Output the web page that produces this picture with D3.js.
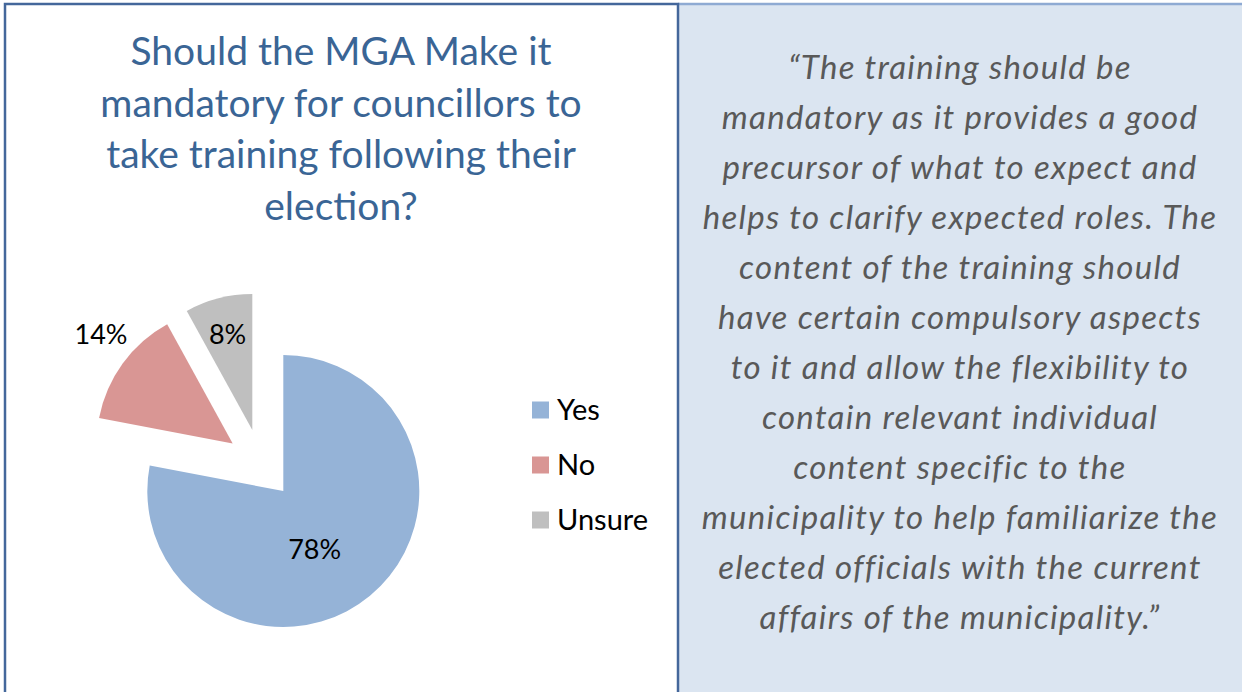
<!DOCTYPE html>
<html>
<head>
<meta charset="utf-8">
<script src="https://cdn.jsdelivr.net/npm/d3@7"></script>
<style>
  html, body { margin: 0; padding: 0; background: #ffffff; }
  svg { display: block; }
</style>
</head>
<body>
<div id="chart"></div>
<script>
// ---- data ----
const categories = ["Yes", "No", "Unsure"];
const values = [78, 14, 8];
const valueLabels = ["78%", "14%", "8%"];
const colors = ["#95b3d7", "#d99694", "#bfbfbf"];
const titleLines = [
  "Should the MGA Make it",
  "mandatory for councillors to",
  "take training following their",
  "election?"
];
const quoteLines = [
  "\u201CThe training should be",
  "mandatory as it provides a good",
  "precursor of what to expect and",
  "helps to clarify expected roles. The",
  "content of the training should",
  "have certain compulsory aspects",
  "to it and allow the flexibility to",
  "contain relevant individual",
  "content specific to the",
  "municipality to help familiarize the",
  "elected officials with the current",
  "affairs of the municipality.\u201D"
];

// ---- layout ----
const W = 1242, H = 692;
const svg = d3.select("#chart").append("svg").attr("width", W).attr("height", H);

// panels
const dividerX = 678;
svg.append("rect").attr("x", 0).attr("y", 0).attr("width", W).attr("height", H).attr("fill", "#ffffff");
svg.append("rect").attr("x", dividerX).attr("y", 4).attr("width", W - dividerX + 10).attr("height", H)
  .attr("fill", "#dbe5f1");
svg.append("line").attr("x1", dividerX).attr("x2", W).attr("y1", 4).attr("y2", 4)
  .attr("stroke", "#8eaad3").attr("stroke-width", 2.5);
svg.append("path")
  .attr("d", `M5,${H + 5} L5,4 L${dividerX},4 L${dividerX},${H + 5}`)
  .attr("fill", "none").attr("stroke", "#44679b").attr("stroke-width", 2.5);

// title
const font = "Lato, 'Open Sans', sans-serif";
svg.append("g").selectAll("text").data(titleLines).join("text")
  .attr("x", 341)
  .attr("y", (d, i) => 65 + i * 51.6)
  .attr("text-anchor", "middle")
  .attr("font-family", font)
  .attr("font-size", 39)
  .attr("fill", "#3a6595")
  .text(d => d);

// pie
const cx = 261, cy = 464, R = 136, explode = 35;
const pie = d3.pie().sort(null).value(d => d);
const arcs = pie(values);
const arc = d3.arc().innerRadius(0).outerRadius(R);
// label placement: fraction of radius, and position along the slice's angle span
const labelRadius = [0.485, 1.26, 0.73];
const labelFrac = [0.54, 0.575, 0.5];

const gPie = svg.append("g").attr("transform", `translate(${cx},${cy})`);
const slice = gPie.selectAll("g.slice").data(arcs).join("g")
  .attr("class", "slice")
  .attr("transform", d => {
    const m = (d.startAngle + d.endAngle) / 2;
    return `translate(${Math.sin(m) * explode},${-Math.cos(m) * explode})`;
  });
slice.append("path").attr("d", arc).attr("fill", (d, i) => colors[i]);
slice.append("text")
  .attr("transform", (d, i) => {
    const a = d.startAngle + (d.endAngle - d.startAngle) * labelFrac[i];
    const r = labelRadius[i] * R;
    return `translate(${Math.sin(a) * r},${-Math.cos(a) * r})`;
  })
  .attr("text-anchor", "middle")
  .attr("dy", "0.36em")
  .attr("font-family", font)
  .attr("font-size", 27)
  .attr("fill", "#000000")
  .text((d, i) => valueLabels[i]);

// legend
const legend = svg.append("g").attr("transform", "translate(532,410)");
const li = legend.selectAll("g").data(categories).join("g")
  .attr("transform", (d, i) => `translate(0,${i * 55})`);
li.append("rect").attr("x", 0).attr("y", -8.5).attr("width", 17).attr("height", 17)
  .attr("fill", (d, i) => colors[i]);
li.append("text").attr("x", 25).attr("dy", "0.36em")
  .attr("font-family", font).attr("font-size", 29).attr("fill", "#000000")
  .text(d => d);

// quote
svg.append("g").selectAll("text").data(quoteLines).join("text")
  .attr("x", 960)
  .attr("y", (d, i) => 79 + i * 50)
  .attr("text-anchor", "middle")
  .attr("font-family", font)
  .attr("font-style", "italic")
  .attr("font-size", 33)
  .attr("letter-spacing", "1.3px")
  .attr("fill", "#595959")
  .text(d => d);
</script>
</body>
</html>
